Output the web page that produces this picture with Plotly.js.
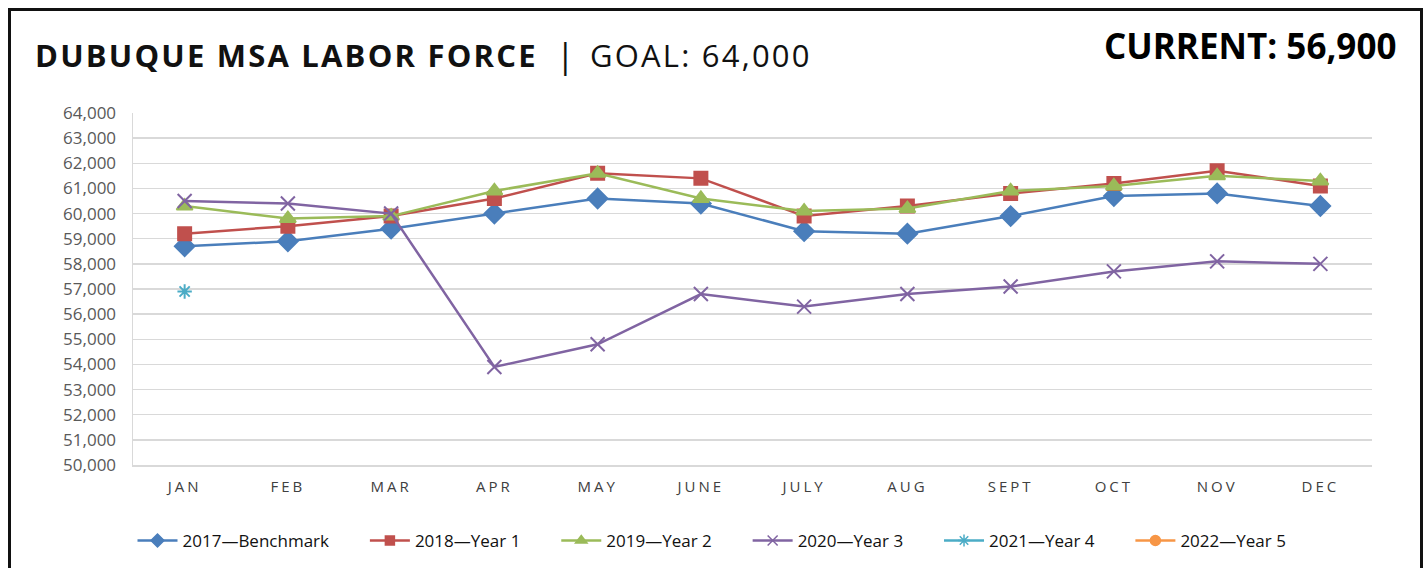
<!DOCTYPE html>
<html><head><meta charset="utf-8">
<script src="https://cdn.plot.ly/plotly-3.0.1.min.js"></script>
<style>
html,body{margin:0;padding:0;background:#fff;}
#chart{width:1426px;height:568px;}
#frame{position:absolute;left:8px;top:8px;width:1409px;height:600px;border:3px solid #111;pointer-events:none;}
</style></head>
<body>
<div id="chart"></div>
<div id="frame"></div>
<script>
const months = ["JAN","FEB","MAR","APR","MAY","JUNE","JULY","AUG","SEPT","OCT","NOV","DEC"];
const y2017 = [58700,58900,59400,60000,60600,60400,59300,59200,59900,60700,60800,60300];
const y2018 = [59200,59500,59900,60600,61600,61400,59900,60300,60800,61200,61700,61100];
const y2019 = [60300,59800,59900,60900,61600,60600,60100,60200,60900,61100,61500,61300];
const y2020 = [60500,60400,60000,53900,54800,56800,56300,56800,57100,57700,58100,58000];
const y2021 = [56900,null,null,null,null,null,null,null,null,null,null,null];
const y2022 = [null,null,null,null,null,null,null,null,null,null,null,null];
const names = ["2017\u2014Benchmark","2018\u2014Year 1","2019\u2014Year 2","2020\u2014Year 3","2021\u2014Year 4","2022\u2014Year 5"];
const yTicks = [50000,51000,52000,53000,54000,55000,56000,57000,58000,59000,60000,61000,62000,63000,64000];

const styles = [
  {c:"#4a7ebb", sym:"diamond", size:15, ls:10},
  {c:"#c0504d", sym:"square", size:13, ls:9},
  {c:"#9bbb59", sym:"triangle-up", size:14, ls:10},
  {c:"#8064a2", sym:"x-thin-open", size:14, ls:10},
  {c:"#4bacc6", sym:"asterisk-open", size:12, ls:10},
  {c:"#f79646", sym:"circle", size:11, ls:10}
];
const series = [y2017,y2018,y2019,y2020,y2021,y2022];
const traces = series.map((ys,i)=>({
  type:"scatter", mode:"lines+markers", name:names[i], showlegend:false,
  x:months, y:ys,
  line:{color:styles[i].c, width:2.5},
  marker:{symbol:styles[i].sym, size:styles[i].size, color:styles[i].c, line:{color:styles[i].c, width:2}},
  connectgaps:false
}));
const nb = "\u00a0\u00a0\u00a0\u00a0\u00a0\u00a0\u00a0";
const legendTraces = series.map((ys,i)=>({
  type:"scatter", mode:"lines+markers", name:names[i]+(i<5?nb:""), showlegend:true,
  x:[months[0]], y:[null],
  line:{color:styles[i].c, width:2.5},
  marker:{symbol:styles[i].sym, size:styles[i].ls, color:styles[i].c, line:{color:styles[i].c, width:1.5}}
}));

const layout = {
  width:1426, height:568,
  margin:{l:133, r:54, t:113, b:103},
  paper_bgcolor:"#fff", plot_bgcolor:"#fff",
  font:{family:"Open Sans, sans-serif", color:"#404040"},
  showlegend:true,
  legend:{orientation:"h", xref:"container", yref:"container", x:712/1426, xanchor:"center", y:(568-541)/568, yanchor:"middle",
    font:{size:17, color:"#111", family:"Open Sans, sans-serif"}, itemwidth:40, traceorder:"normal"},
  xaxis:{type:"category", range:[-0.5,11.5], tickvals:months,
    ticktext:months.map(m=>'<span style="letter-spacing:3px">'+m+'</span>'),
    showgrid:false, showline:true, linecolor:"#d9d9d9", linewidth:1.5, ticks:"",
    tickfont:{size:15, color:"#404040"}, ticklabelstandoff:7, fixedrange:true},
  yaxis:{range:[50000,64000], tickvals:yTicks, ticktext:yTicks.map(v=>v.toLocaleString("en-US")),
    showgrid:true, gridcolor:"#d9d9d9", gridwidth:1.5, showline:true, linecolor:"#d9d9d9", linewidth:1.5,
    zeroline:false, ticks:"", tickfont:{size:17, color:"#595959"}, ticklabelstandoff:12, fixedrange:true},
  annotations:[
    {xref:"paper", yref:"paper", x:(33-133)/1239, y:(465-55)/352, xanchor:"left", yanchor:"middle", showarrow:false,
     text:'<b><span style="letter-spacing:2.2px">DUBUQUE MSA LABOR FORCE</span></b>', font:{size:31, color:"#111", family:"Open Sans, sans-serif"}},
    {xref:"paper", yref:"paper", x:(554-133)/1239, y:(465-55)/352, xanchor:"left", yanchor:"middle", showarrow:false,
     text:'|', font:{size:34, color:"#111", family:"Open Sans, sans-serif"}},
    {xref:"paper", yref:"paper", x:(588-133)/1239, y:(465-55)/352, xanchor:"left", yanchor:"middle", showarrow:false,
     text:'<span style="letter-spacing:2.2px">GOAL: 64,000</span>', font:{size:31, color:"#111", family:"Open Sans, sans-serif"}},
    {xref:"paper", yref:"paper", x:(1398-133)/1239, y:(465-45)/352, xanchor:"right", yanchor:"middle", showarrow:false,
     text:'<b>CURRENT: 56,900</b>', font:{size:35, color:"#000", family:"Open Sans, sans-serif"}}
  ]
};
Plotly.newPlot("chart", traces.concat(legendTraces), layout, {displayModeBar:false, staticPlot:true});
</script>
</body></html>
